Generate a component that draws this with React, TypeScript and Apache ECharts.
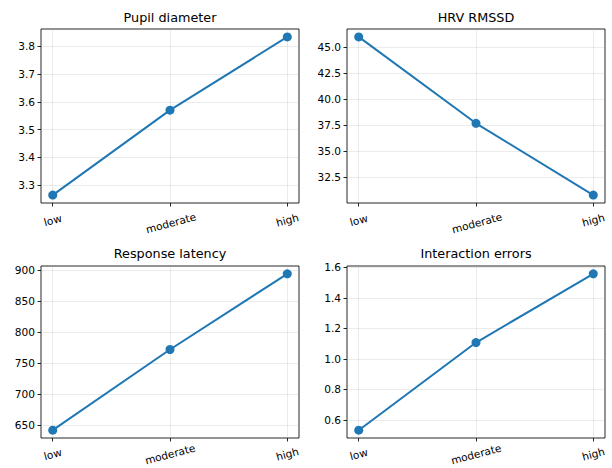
import React, { useEffect, useRef } from "react";
import * as echarts from "echarts";

const categories = ["low", "moderate", "high"];
const titles = ["Pupil diameter", "HRV RMSSD", "Response latency", "Interaction errors"];
const pupilValues = [3.264, 3.57, 3.834];
const hrvValues = [46.0, 37.7, 30.8];
const latencyValues = [642, 772, 894];
const errorValues = [0.533, 1.107, 1.557];
const pupilTicks = [3.3, 3.4, 3.5, 3.6, 3.7, 3.8];
const hrvTicks = [32.5, 35.0, 37.5, 40.0, 42.5, 45.0];
const latencyTicks = [650, 700, 750, 800, 850, 900];
const errorTicks = [0.6, 0.8, 1.0, 1.2, 1.4, 1.6];

const FONT = "DejaVu Sans";
const BLUE = "#1f77b4";

export default function App() {
  const ref = useRef<HTMLDivElement>(null);
  useEffect(() => {
    document.body.style.margin = "0";
    const chart = echarts.init(ref.current!, undefined, { renderer: "svg" });
    const panels = [
      { values: pupilValues, ticks: pupilTicks, digits: 1 },
      { values: hrvValues, ticks: hrvTicks, digits: 1 },
      { values: latencyValues, ticks: latencyTicks, digits: 0 },
      { values: errorValues, ticks: errorTicks, digits: 1 },
    ];
    const grids = [
      { left: 41, top: 29, width: 258, height: 174 },
      { left: 347, top: 29, width: 258, height: 174 },
      { left: 41, top: 266, width: 258, height: 172 },
      { left: 347, top: 266, width: 258, height: 172 },
    ];
    const gridLine = { show: true, lineStyle: { color: "#b0b0b0", opacity: 0.3, width: 0.85 } };
    const tick = { show: true, length: 3.5, inside: false, lineStyle: { color: "#000", width: 0.85 } };
    const xAxis = grids.map((_, i) => {
      const top = i < 2;
      return {
        type: "value",
        gridIndex: i,
        min: -0.1,
        max: 2.1,
        axisLine: { show: false, onZero: false },
        axisTick: { ...tick, customValues: [0, 1, 2] },
        splitLine: gridLine,
        axisLabel: {
          customValues: [0, 1, 2],
          rotate: 15,
          align: "center",
          verticalAlign: "middle",
          margin: top ? 17 : 16,
          fontFamily: FONT,
          fontSize: 10.6,
          color: "#000",
          formatter: (v: number) => {
            const c = categories[Math.round(v)];
            return top && c === "moderate" ? "{m|" + c + "}" : c;
          },
          rich: { m: { padding: [6, 0, 0, 0], fontFamily: FONT, fontSize: 10.6, color: "#000" } },
        },
      };
    });
    const yAxis = panels.map((p, i) => {
      const lo = Math.min(...p.values);
      const hi = Math.max(...p.values);
      const m = (hi - lo) * 0.05;
      return {
        type: "value",
        gridIndex: i,
        min: lo - m,
        max: hi + m,
        axisLine: { show: false, onZero: false },
        axisTick: { ...tick, customValues: p.ticks },
        splitLine: gridLine,
        axisLabel: {
          customValues: p.ticks,
          margin: 6,
          fontFamily: FONT,
          fontSize: 10.6,
          color: "#000",
          formatter: (v: number) => v.toFixed(p.digits),
        },
      };
    });
    const series = panels.map((p, i) => ({
      type: "line",
      xAxisIndex: i,
      yAxisIndex: i,
      data: p.values.map((v, j) => [j, v]),
      symbol: "circle",
      symbolSize: 9,
      lineStyle: { color: BLUE, width: 2 },
      itemStyle: { color: BLUE },
      z: 5,
    }));
    const title = grids.map((g, i) => ({
      text: titles[i],
      left: g.left + g.width / 2,
      textAlign: "center",
      top: i < 2 ? 11 : 247,
      padding: 0,
      textStyle: { fontFamily: FONT, fontSize: 12.8, fontWeight: "normal", color: "#000" },
    }));
    chart.setOption({
      animation: false,
      backgroundColor: "#fff",
      title,
      grid: grids.map((g) => ({
        ...g,
        show: true,
        containLabel: false,
        outerBoundsMode: "none",
        borderColor: "#000",
        borderWidth: 0.85,
        backgroundColor: "transparent",
      })),
      xAxis,
      yAxis,
      series,
    });
    return () => chart.dispose();
  }, []);
  return <div ref={ref} style={{ width: 612, height: 468 }} />;
}
